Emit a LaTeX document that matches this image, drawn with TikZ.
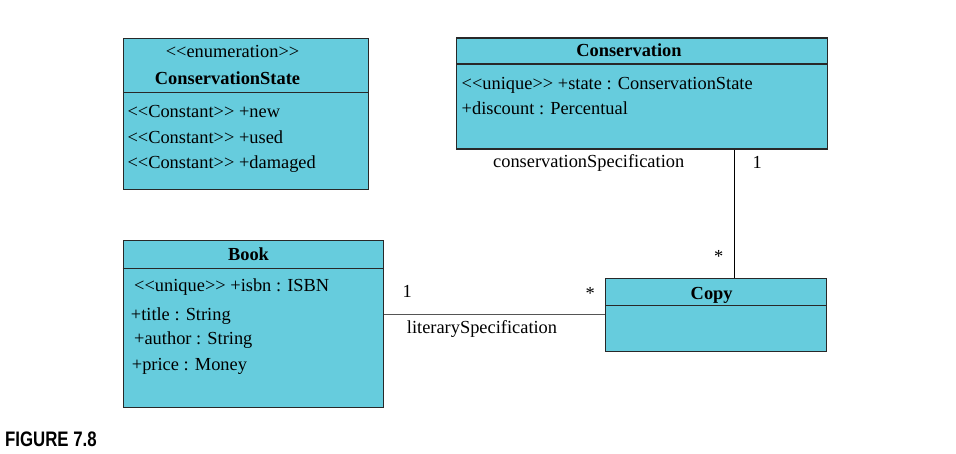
\documentclass[tikz,border=0pt]{standalone}
\usepackage{fontspec}
\setmainfont{Liberation Serif}
\newfontfamily\figfont{Liberation Sans}
\definecolor{umlfill}{RGB}{102,204,221}
\definecolor{umlline}{RGB}{40,40,40}
\definecolor{assocgray}{RGB}{85,85,85}
\begin{document}
\begin{tikzpicture}[x=1pt,y=-1pt,
  umlbox/.style={draw=umlline,fill=umlfill,line width=1.2pt,rectangle,inner sep=0pt,anchor=north west},
  txt/.style={inner sep=0pt,anchor=base west,font=\fontsize{18.4}{22}\selectfont},
  ctxt/.style={inner sep=0pt,anchor=base,font=\fontsize{18.4}{22}\selectfont},
  btxt/.style={inner sep=0pt,anchor=base,font=\fontsize{18.4}{22}\selectfont\bfseries},
  divider/.style={draw=umlline,line width=1.2pt},
  assoc/.style={line width=1.2pt}]
\useasboundingbox[fill=white] (0,0) rectangle (956,453);

% ConservationState
\node[umlbox,minimum width=245pt,minimum height=151.5pt] (cs) at (123,37.5) {};
\draw[divider] (cs.west |- 0,92.3) -- (cs.east |- 0,92.3);
\node[ctxt] (csst) at (232.5,57) {<{}<enumeration>{}>};
\node[btxt] (csname) at (227.5,84) {ConservationState};
\node[txt] (csa1) at (127.3,117) {<{}<Constant>{}> +new};
\node[txt] (csa2) at (127.3,143) {<{}<Constant>{}> +used};
\node[txt] (csa3) at (127.3,168.5) {<{}<Constant>{}> +damaged};

% Conservation
\node[umlbox,minimum width=370.5pt,minimum height=111pt] (cons) at (456,37.3) {};
\draw[divider] (cons.west |- 0,64) -- (cons.east |- 0,64);
\node[btxt] (consname) at (629,56.7) {Conservation};
\node[txt] (consa1) at (461.5,89.3) {<{}<unique>{}> +state : ConservationState};
\node[txt] (consa2) at (461.5,114.5) {+discount : Percentual};

% Book
\node[umlbox,minimum width=260pt,minimum height=166.7pt] (book) at (122.7,240) {};
\draw[divider] (book.west |- 0,268.3) -- (book.east |- 0,268.3);
\node[btxt] (bookname) at (248.5,260.7) {Book};
\node[txt] (ba1) at (134,291) {<{}<unique>{}> +isbn : ISBN};
\node[txt] (ba2) at (130.7,320) {+title : String};
\node[txt] (ba3) at (134,344.5) {+author : String};
\node[txt] (ba4) at (131.7,370) {+price : Money};

% Copy
\node[umlbox,minimum width=221pt,minimum height=73pt] (copy) at (605,277.7) {};
\draw[divider] (copy.west |- 0,305.5) -- (copy.east |- 0,305.5);
\node[btxt] (copyname) at (711.7,299.3) {Copy};

% Associations
\draw[assoc,draw=assocgray] (book.east |- 0,314.5) -- (copy.west |- 0,314.5);
\draw[assoc,draw=black] (cons.south -| 734.5,0) -- (copy.north -| 734.5,0);

\node[txt] (m1) at (402.5,297) {1};
\node[txt] (m2) at (585.5,299.5) {*};
\node[txt] (lit) at (406.7,333.3) {literarySpecification};
\node[txt] (m3) at (752.5,168) {1};
\node[txt] (m4) at (714,262.5) {*};
\node[ctxt] (consspec) at (588.7,167.7) {conservationSpecification};

% Figure label
\node[inner sep=0pt,anchor=base west] (fig) at (5,446.7) {\scalebox{0.8}[1]{\figfont\fontsize{21}{24}\selectfont\bfseries FIGURE 7.8}};
\end{tikzpicture}
\end{document}
